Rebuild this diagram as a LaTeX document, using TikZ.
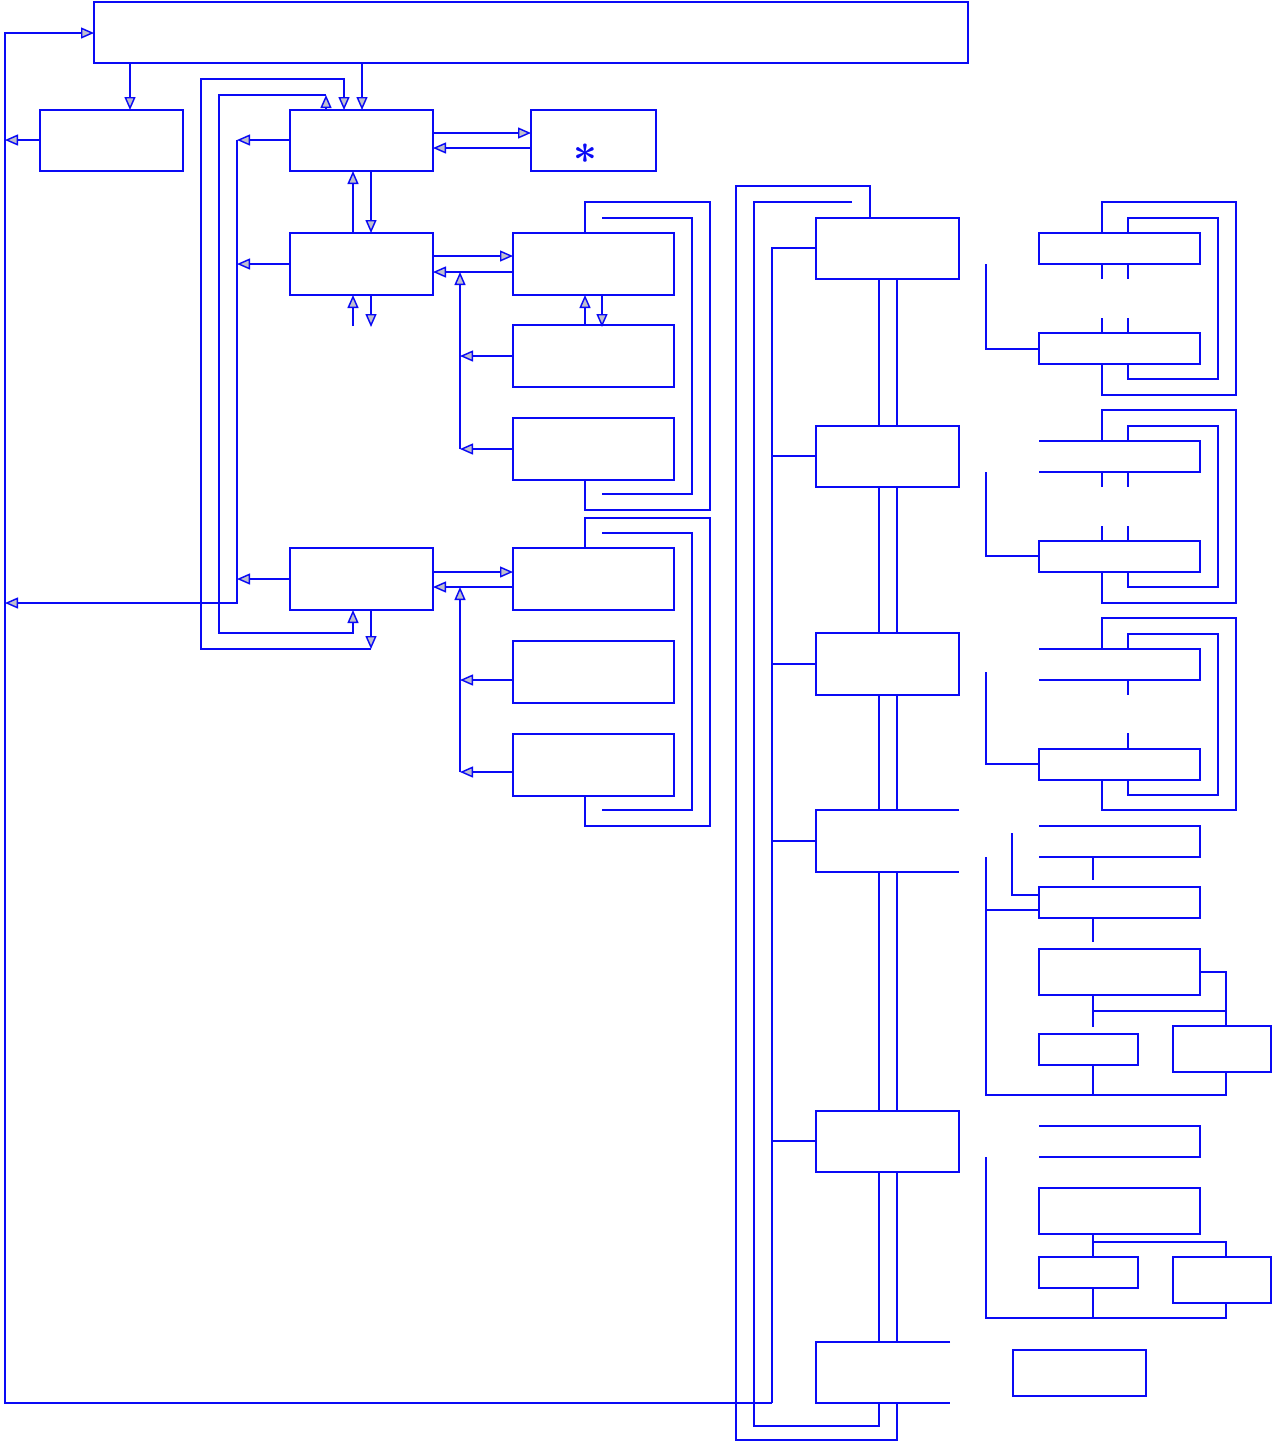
\documentclass[tikz,border=0pt]{standalone}
\usetikzlibrary{arrows.meta,fit}
\definecolor{ln}{RGB}{10,10,245}
\definecolor{ag}{RGB}{192,192,204}
\newcommand{\bx}[5]{\node[box,fit={(#2,#3)(#4,#5)}] (#1) {};}
\begin{document}
\begin{tikzpicture}[x=0.5pt,y=-0.5pt,line width=0.72pt,color=ln,
  box/.style={draw,inner sep=0pt,outer sep=0pt},
  arr/.style={-{Triangle[length=6.5pt,width=5.5pt,fill=ag]}}]
\useasboundingbox (0,0) rectangle (1273,1442);
% ---- boxes ----
\bx{top}{94}{2}{968}{63}
\bx{B1}{40}{110}{183}{171}
\bx{C1}{290}{110}{433}{171}
\bx{S}{531}{110}{656}{171}
\bx{C2}{290}{233}{433}{295}
\bx{C3}{290}{548}{433}{610}
\bx{D1}{513}{233}{674}{295}
\bx{D2}{513}{325}{674}{387}
\bx{D3}{513}{418}{674}{480}
\bx{D4}{513}{548}{674}{610}
\bx{D5}{513}{641}{674}{703}
\bx{D6}{513}{734}{674}{796}
\bx{E1}{816}{218}{959}{279}
\bx{E2}{816}{426}{959}{487}
\bx{E3}{816}{633}{959}{695}
\bx{E5}{816}{1111}{959}{1172}
\bx{F1}{1039}{233}{1200}{264}
\bx{F2}{1039}{333}{1200}{364}
\bx{G2}{1039}{541}{1200}{572}
\bx{H2}{1039}{749}{1200}{780}
\bx{I2}{1039}{887}{1200}{918}
\bx{I3}{1039}{949}{1200}{995}
\bx{I4}{1039}{1034}{1138}{1065}
\bx{I5}{1173}{1026}{1271}{1072}
\bx{J2}{1039}{1188}{1200}{1234}
\bx{J3}{1039}{1257}{1138}{1288}
\bx{J4}{1173}{1257}{1271}{1303}
\bx{K}{1013}{1350}{1146}{1396}
% open boxes
\coordinate (E4) at (816,841);
\coordinate (E6) at (816,1372);
\draw (959,810) -- (816,810) -- (816,872) -- (959,872);
\draw (950,1342) -- (816,1342) -- (816,1403) -- (950,1403);
\draw (1039,441) -- (1200,441) -- (1200,472) -- (1039,472);
\draw (1039,649) -- (1200,649) -- (1200,680) -- (1039,680);
\draw (1039,826) -- (1200,826) -- (1200,857) -- (1039,857);
\draw (1039,1126) -- (1200,1126) -- (1200,1157) -- (1039,1157);
% asterisk
\node[inner sep=0pt,font=\fontsize{21}{21}\selectfont\boldmath] (star) at (585,154) {$\ast$};
% ---- left part connectors ----
\draw[arr] (772,1403) -- (5,1403) -- (5,33) -- (top.west |- 0,33);
\draw[arr] (130,63) -- (130,110);
\draw[arr] (362,63) -- (362,110);
\draw[arr] (B1.west |- 0,140) -- (5,140);
\draw[arr] (433,133) -- (531,133);
\draw[arr] (531,148) -- (433,148);
\draw[arr] (C1.west |- 0,140) -- (237,140);
\draw[arr] (C2.west |- 0,264) -- (237,264);
\draw[arr] (C3.west |- 0,579) -- (237,579);
\draw[arr] (237,140) -- (237,603) -- (5,603);
\draw[arr] (326,110) -- (326,95);
\draw[arr] (326,95) -- (219,95) -- (219,633) -- (353,633) -- (353,610);
\draw[arr] (371,649) -- (201,649) -- (201,79) -- (344,79) -- (344,110);
\draw[arr] (371,610) -- (371,649);
\draw[arr] (353,233) -- (353,171);
\draw[arr] (371,171) -- (371,233);
\draw[arr] (353,326) -- (353,295);
\draw[arr] (371,295) -- (371,327);
\draw[arr] (433,256) -- (513,256);
\draw[arr] (513,272) -- (433,272);
\draw[arr] (460,449) -- (460,272);
\draw[arr] (D2.west |- 0,356) -- (460,356);
\draw[arr] (D3.west |- 0,449) -- (460,449);
\draw[arr] (585,325) -- (585,295);
\draw[arr] (602,295) -- (602,327);
\draw (585,233) -- (585,202) -- (710,202) -- (710,510) -- (585,510) -- (585,480);
\draw (602,218) -- (692,218) -- (692,494) -- (602,494);
\draw[arr] (433,572) -- (513,572);
\draw[arr] (513,587) -- (433,587);
\draw[arr] (460,772) -- (460,587);
\draw[arr] (513,680) -- (460,680);
\draw[arr] (513,772) -- (460,772);
\draw (585,548) -- (585,518) -- (710,518) -- (710,826) -- (585,826) -- (585,796);
\draw (602,533) -- (692,533) -- (692,810) -- (602,810);
% ---- right part ----
\draw (870,218) -- (870,186) -- (736,186) -- (736,1440) -- (897,1440) -- (897,1403);
\draw (852,202) -- (754,202) -- (754,1426) -- (879,1426) -- (879,1403);
\draw (E1.west |- 0,248) -- (772,248) -- (772,1403);
\draw (772,456) -- (E2.west |- 0,456);
\draw (772,664) -- (E3.west |- 0,664);
\draw (772,841) -- (E4);
\draw (772,1141) -- (E5.west |- 0,1141);
\foreach \a/\b in {279/426,487/633,695/810,872/1111,1172/1342}{
  \draw (879,\a) -- (879,\b);
  \draw (897,\a) -- (897,\b);
}
% F group
\draw (986,264) -- (986,349) -- (1039,349);
\draw (1102,233) -- (1102,202) -- (1236,202) -- (1236,395) -- (1102,395) -- (1102,364);
\draw (1128,233) -- (1128,218) -- (1218,218) -- (1218,379) -- (1128,379) -- (1128,364);
\foreach \x in {1102,1128}{
  \draw (\x,264) -- (\x,279);
  \draw (\x,318) -- (\x,333);
}
% G group
\draw (986,472) -- (986,556) -- (1039,556);
\draw (1102,441) -- (1102,410) -- (1236,410) -- (1236,603) -- (1102,603) -- (1102,572);
\draw (1128,441) -- (1128,426) -- (1218,426) -- (1218,587) -- (1128,587) -- (1128,572);
\foreach \x in {1102,1128}{
  \draw (\x,472) -- (\x,487);
  \draw (\x,526) -- (\x,541);
}
% H group
\draw (986,672) -- (986,764) -- (1039,764);
\draw (1102,649) -- (1102,618) -- (1236,618) -- (1236,810) -- (1102,810) -- (1102,780);
\draw (1128,649) -- (1128,634) -- (1218,634) -- (1218,795) -- (1128,795) -- (1128,780);
\draw (1128,680) -- (1128,695);
\draw (1128,733) -- (1128,749);
% I group
\draw (1093,857) -- (1093,880);
\draw (1093,918) -- (1093,942);
\draw (1012,833) -- (1012,895) -- (1039,895);
\draw (986,857) -- (986,1095) -- (1226,1095) -- (1226,1072);
\draw (986,910) -- (1039,910);
\draw (1200,972) -- (1226,972) -- (1226,1026);
\draw (1093,995) -- (1093,1027);
\draw (1093,1011) -- (1226,1011);
\draw (1093,1065) -- (1093,1095);
% J group
\draw (1093,1234) -- (1093,1257);
\draw (1093,1242) -- (1226,1242) -- (1226,1257);
\draw (986,1157) -- (986,1318) -- (1226,1318) -- (1226,1303);
\draw (1093,1288) -- (1093,1318);
\end{tikzpicture}
\end{document}
